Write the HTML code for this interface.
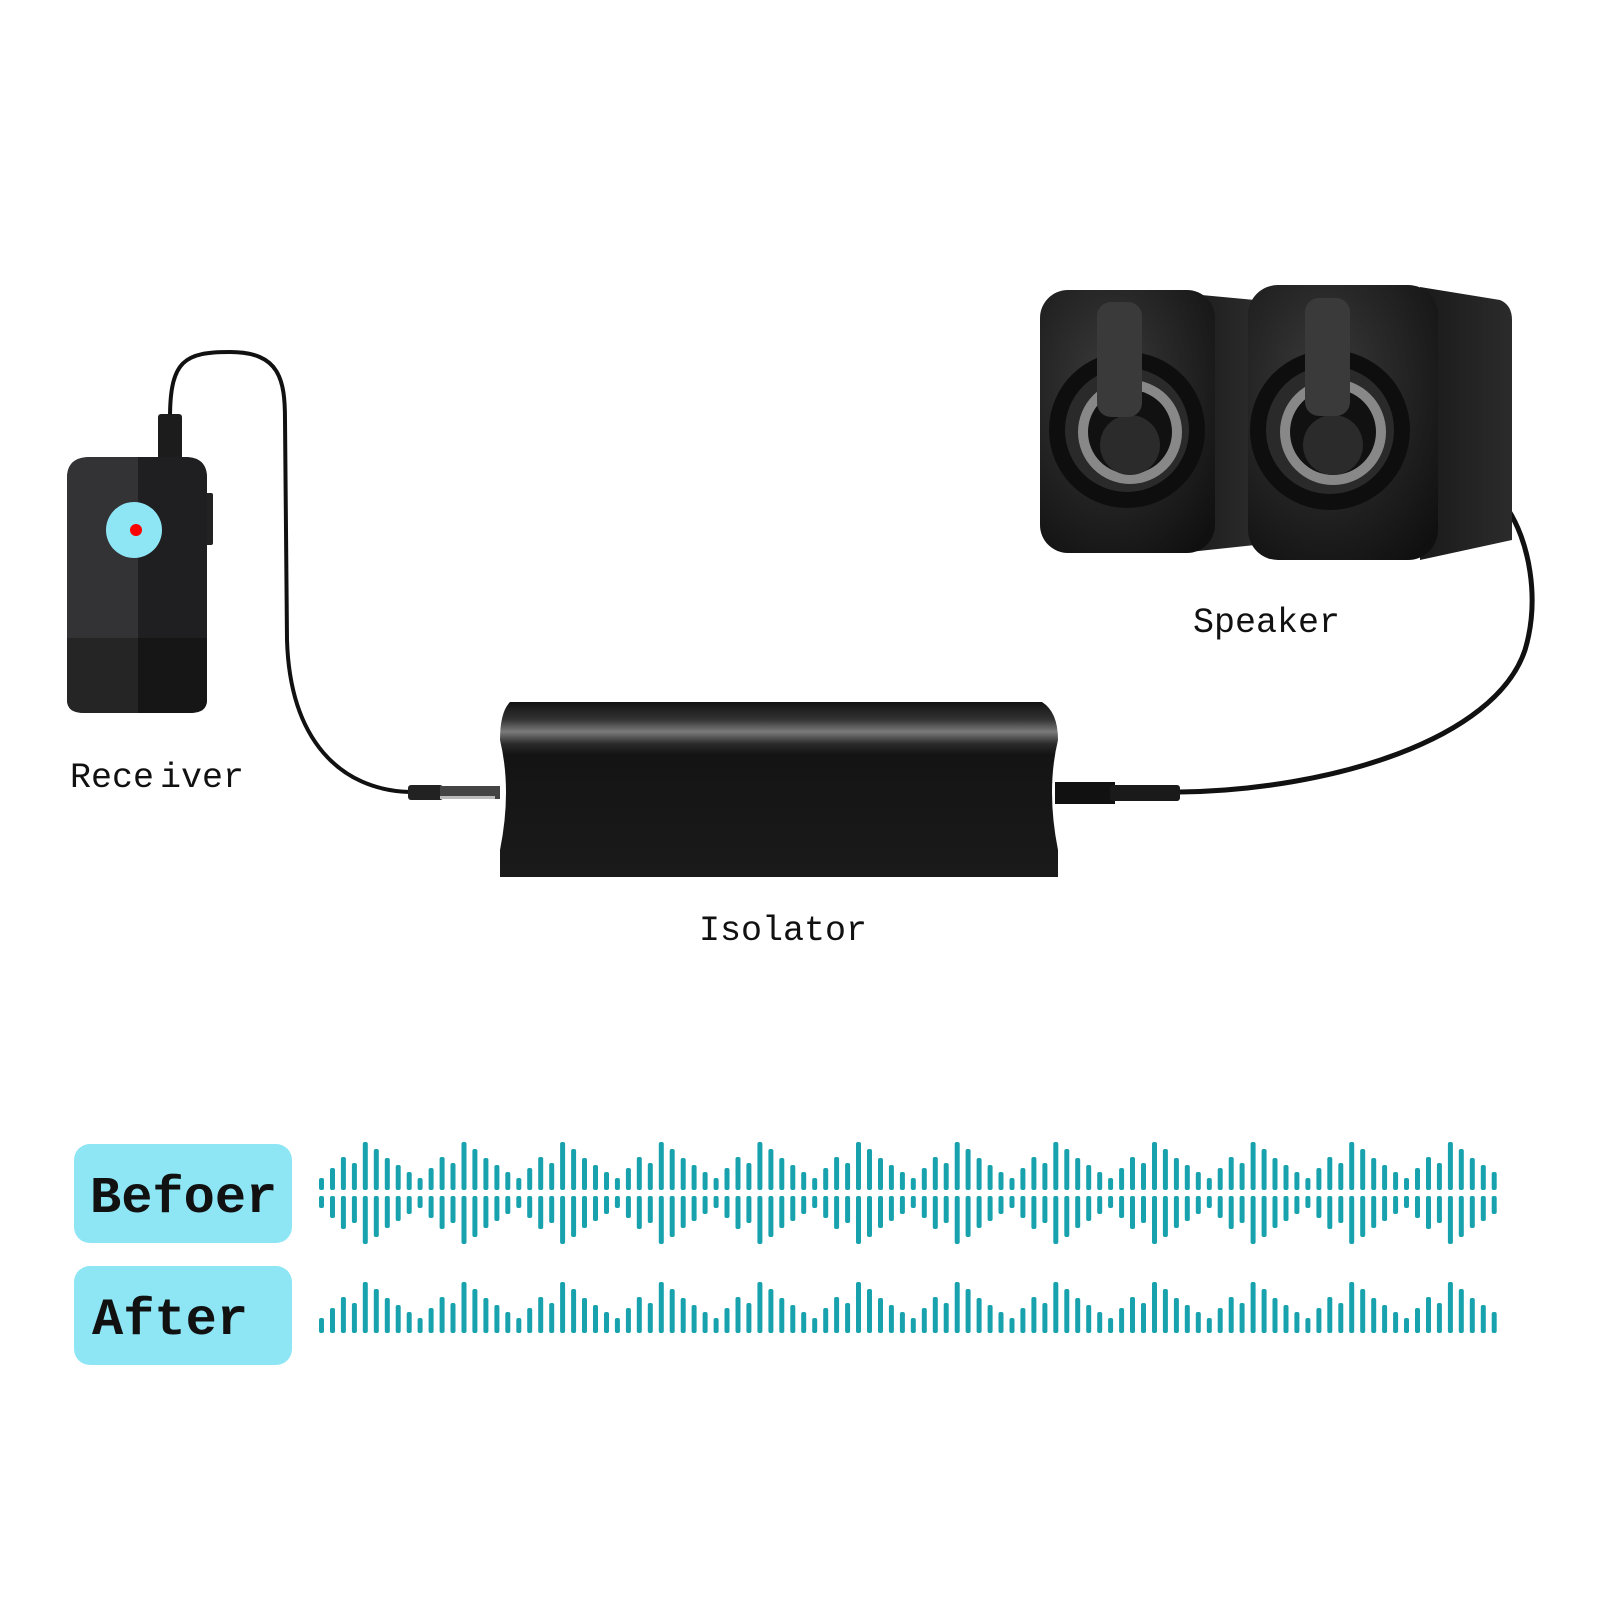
<!DOCTYPE html>
<html><head><meta charset="utf-8"><style>
html,body{margin:0;padding:0;background:#fff;}
svg{display:block}
</style></head><body>
<svg id="s" width="1600" height="1600" viewBox="0 0 1600 1600" xmlns="http://www.w3.org/2000/svg">
<defs>
<linearGradient id="iso" x1="0" y1="0" x2="0" y2="1">
<stop offset="0" stop-color="#111"/><stop offset="0.1" stop-color="#333"/><stop offset="0.17" stop-color="#7a7a7a"/><stop offset="0.24" stop-color="#2a2a2a"/><stop offset="0.3" stop-color="#141414"/><stop offset="1" stop-color="#1a1a1a"/>
</linearGradient>
<radialGradient id="spk" cx="0.4" cy="0.35" r="0.8">
<stop offset="0" stop-color="#3a3a3a"/><stop offset="1" stop-color="#101010"/>
</radialGradient>
<linearGradient id="side" x1="0" y1="0" x2="1" y2="0"><stop offset="0" stop-color="#1a1a1a"/><stop offset="1" stop-color="#2b2b2b"/></linearGradient>
</defs>

<path d="M170,418 C170,360 185,352 230,352 C280,352 285,380 285,420 L287,640 C290,740 340,790 410,792" fill="none" stroke="#111" stroke-width="4"/>
<path d="M1505,505 C1530,540 1540,600 1525,650 C1495,740 1330,790 1180,792" fill="none" stroke="#111" stroke-width="5"/>

<rect x="158" y="414" width="24" height="46" rx="3" fill="#1c1c1c"/>
<rect x="204" y="493" width="9" height="52" rx="2" fill="#222"/>
<path d="M67,478 Q67,457 90,457 L185,457 Q207,457 207,478 L207,700 Q207,713 190,713 L84,713 Q67,713 67,700 Z" fill="#262626"/>
<path d="M138,457 L185,457 Q207,457 207,478 L207,638 L138,638 Z" fill="#1f1f21"/>
<path d="M67,478 Q67,457 90,457 L138,457 L138,638 L67,638 Z" fill="#333336"/>
<path d="M67,638 L138,638 L138,713 L84,713 Q67,713 67,700 Z" fill="#252525"/>
<path d="M138,638 L207,638 L207,700 Q207,713 190,713 L138,713 Z" fill="#161616"/>
<circle cx="134" cy="530" r="28" fill="#8ee6f5"/>
<circle cx="136" cy="530" r="6" fill="#f00"/>
<text x="70" y="787" font-family="Liberation Mono, monospace" font-size="35" fill="#111">Rece<tspan dx="6">iver</tspan></text>

<rect x="408" y="785" width="35" height="15" rx="3" fill="#222"/>
<rect x="440" y="786" width="60" height="13" fill="#444"/>
<rect x="440" y="796" width="55" height="3" fill="#bbb"/>
<rect x="1055" y="782" width="60" height="22" fill="#111"/>
<rect x="1110" y="785" width="70" height="16" rx="3" fill="#1a1a1a"/>
<path d="M510,702 L1042,702 Q1058,712 1058,740 Q1046,790 1058,850 L1058,877 L500,877 L500,850 Q512,790 500,740 Q500,712 510,702 Z" fill="url(#iso)"/>
<text x="699" y="940" font-family="Liberation Mono, monospace" font-size="35" fill="#111">Isolator</text>

<path d="M1180,293 L1255,300 L1255,545 L1180,553 Z" fill="url(#side)"/>
<rect x="1040" y="290" width="175" height="263" rx="28" fill="url(#spk)"/>
<circle cx="1127" cy="430" r="78" fill="#0e0e0e"/>
<circle cx="1127" cy="430" r="62" fill="#2a2a2a"/>
<circle cx="1130" cy="432" r="52" fill="#888"/>
<circle cx="1130" cy="432" r="42" fill="#111"/>
<circle cx="1130" cy="445" r="30" fill="#2b2b2b"/>
<rect x="1097" y="302" width="45" height="115" rx="14" fill="#3a3a3a"/>
<path d="M1420,287 L1500,300 Q1512,305 1512,320 L1512,540 L1420,560 Z" fill="url(#side)"/>
<rect x="1248" y="285" width="190" height="275" rx="30" fill="url(#spk)"/>
<circle cx="1330" cy="430" r="80" fill="#0e0e0e"/>
<circle cx="1330" cy="430" r="64" fill="#2a2a2a"/>
<circle cx="1333" cy="432" r="53" fill="#888"/>
<circle cx="1333" cy="432" r="43" fill="#111"/>
<circle cx="1333" cy="445" r="30" fill="#2b2b2b"/>
<rect x="1305" y="298" width="45" height="118" rx="14" fill="#3a3a3a"/>
<text x="1193" y="632" font-family="Liberation Mono, monospace" font-size="35" fill="#111">Speaker</text>

<rect x="74" y="1144" width="218" height="99" rx="16" fill="#8ee6f5"/>
<rect x="74" y="1266" width="218" height="99" rx="16" fill="#8ee6f5"/>
<text x="90" y="1212" font-family="Liberation Mono, monospace" font-weight="bold" font-size="52" fill="#111">Befoer</text>
<text x="92" y="1334" font-family="Liberation Mono, monospace" font-weight="bold" font-size="52" fill="#111">After</text>
<g id="bars" fill="#17a2ad"></g>
</svg>
<script>
var H=[15,25,36,30,51,44,35,28,21],g=document.getElementById('bars'),s='';
for(var i=0;i<108;i++){var x=(319+i*10.96).toFixed(1),h=H[i%9];
s+='<rect x="'+x+'" y="'+(1193-h)+'" width="5" height="'+(h-3)+'" rx="2"/>';
s+='<rect x="'+x+'" y="1196" width="5" height="'+(h-3)+'" rx="2"/>';
s+='<rect x="'+x+'" y="'+(1333-h)+'" width="5" height="'+h+'" rx="2"/>';}
g.innerHTML=s;
</script>
</body></html>
